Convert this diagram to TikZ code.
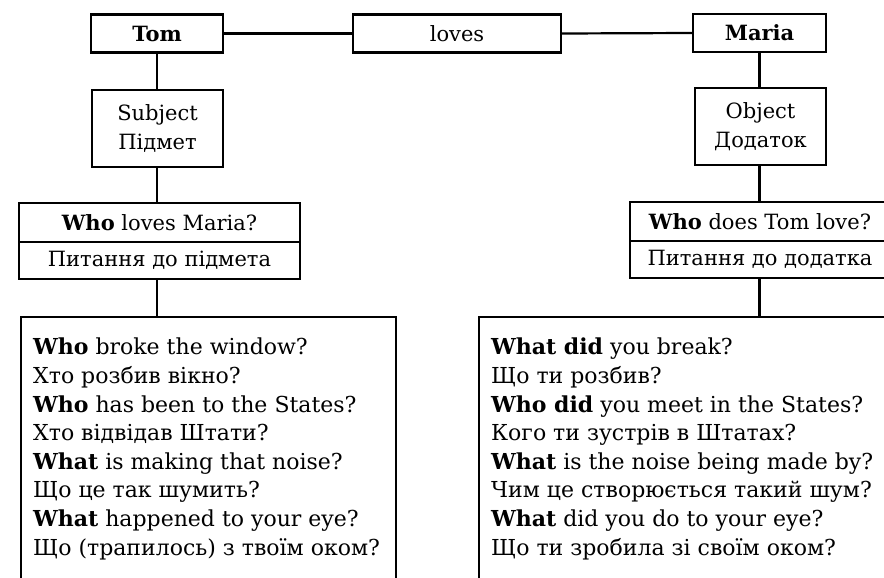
\documentclass[tikz,border=0pt]{standalone}
\usepackage{fontspec}
\setmainfont{DejaVu Serif}
\begin{document}
\begin{tikzpicture}[x=1pt,y=-1pt,
  box/.style={draw=black, line width=2.2pt, inner sep=0pt, align=center,
    font=\fontsize{21}{28.5}\selectfont, text=black},
  listtext/.style={anchor=base west, inner sep=0pt, align=left,
    font=\fontsize{22}{28.6}\selectfont, text=black},
  link/.style={draw=black, line width=2.2pt}]
\useasboundingbox (0,0) rectangle (884,578);
\clip (0,0) rectangle (884,578);
\fill[white] (0,0) rectangle (884,578);
% top row
\node[box, minimum width=132, minimum height=38] (tom) at (157,33.5) {\textbf{Tom}};
\node[box, minimum width=208, minimum height=38] (loves) at (457,33.5) {loves};
\node[box, minimum width=133, minimum height=38] (maria) at (759.5,33) {\textbf{Maria}};
% subject / object
\node[box, minimum width=131, minimum height=77] (subj) at (157.5,128.5) {Subject\\Підмет};
\node[box, minimum width=131, minimum height=77] (obj) at (760.5,126.5) {Object\\Додаток};
% questions
\node[box, minimum width=281, minimum height=39] (wq1) at (159.5,222.5) {\textbf{Who} loves Maria?};
\node[box, minimum width=281, minimum height=37] (wq2) at (159.5,260.5) {Питання до підмета};
\node[box, minimum width=260, minimum height=39] (rq1) at (760,221.5) {\textbf{Who} does Tom love?};
\node[box, minimum width=260, minimum height=37] (rq2) at (760,259.5) {Питання до додатка};
% lists
\node[box, anchor=north west, minimum width=375, minimum height=300] (lbox) at (20,316) {};
\node[box, anchor=north west, minimum width=430, minimum height=300] (rbox) at (478,316) {};
\node[listtext] (ltext) at (33,555) {%
\textbf{Who} broke the window?\\
Хто розбив вікно?\\
\textbf{Who} has been to the States?\\
Хто відвідав Штати?\\
\textbf{What} is making that noise?\\
Що це так шумить?\\
\textbf{What} happened to your eye?\\
Що (трапилось) з твоїм оком?};
\node[listtext] (rtext) at (491,555) {%
\textbf{What did} you break?\\
Що ти розбив?\\
\textbf{Who did} you meet in the States?\\
Кого ти зустрів в Штатах?\\
\textbf{What} is the noise being made by?\\
Чим це створюється такий шум?\\
\textbf{What} did you do to your eye?\\
Що ти зробила зі своїм оком?};
% connectors
\draw[link] (tom.east) -- (loves.west);
\draw[link] (loves.east) -- (maria.west);
\draw[link] (tom.south) -- (subj.north -| tom.south);
\draw[link] (subj.south -| tom.south) -- (wq1.north -| tom.south);
\draw[link] (wq2.south -| tom.south) -- (lbox.north -| tom.south);
\draw[link] (maria.south) -- (obj.north -| maria.south);
\draw[link] (obj.south -| maria.south) -- (rq1.north -| maria.south);
\draw[link] (rq2.south -| maria.south) -- (rbox.north -| maria.south);
\end{tikzpicture}
\end{document}
